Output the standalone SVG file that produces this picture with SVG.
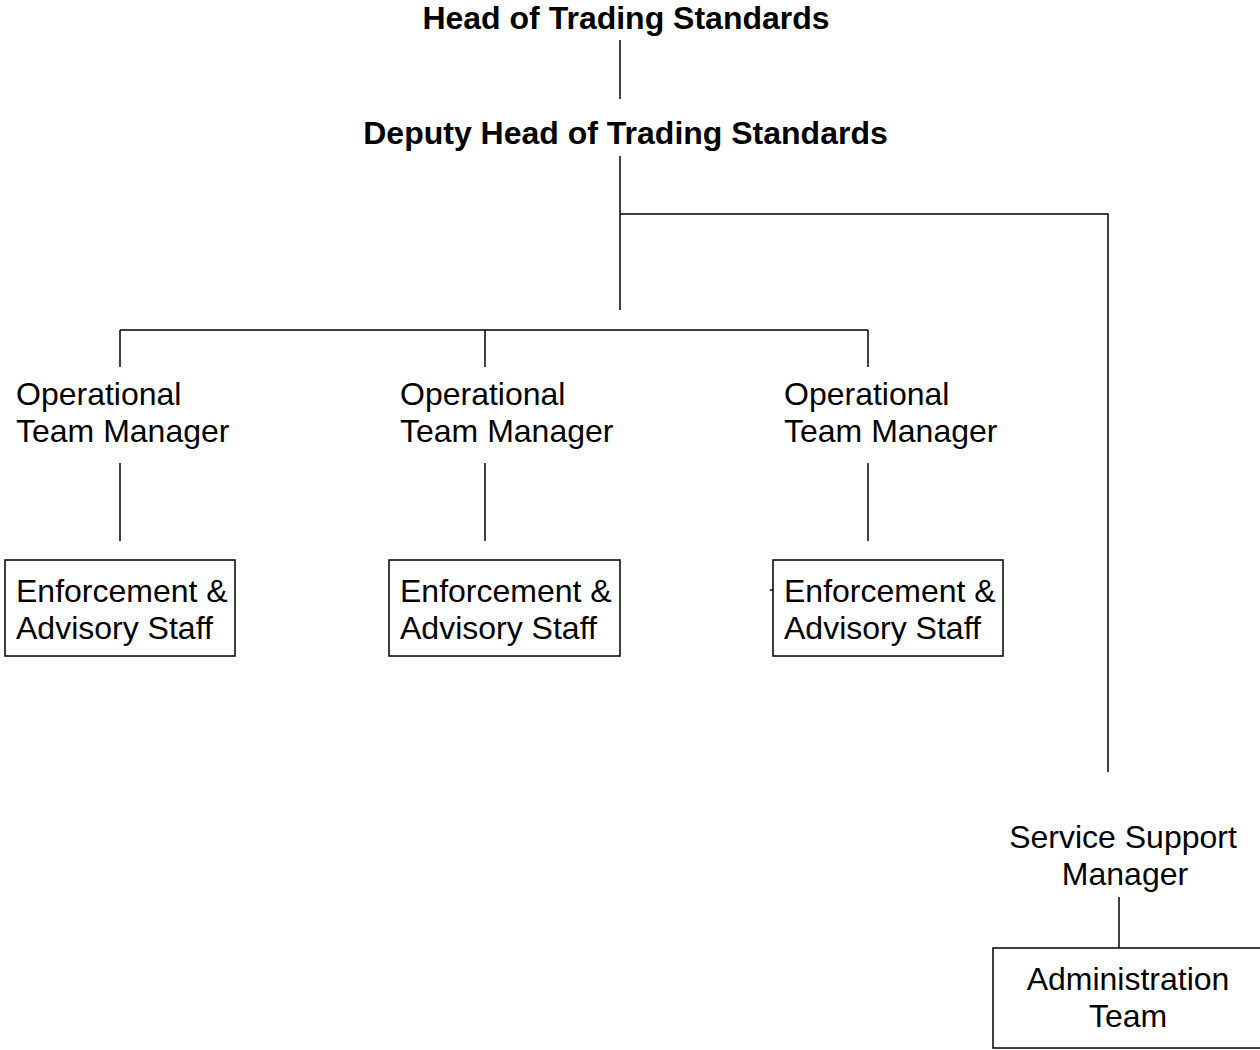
<svg xmlns="http://www.w3.org/2000/svg" width="1260" height="1050" viewBox="0 0 1260 1050">
<style>
text{font-family:"Liberation Sans",Arial,sans-serif;font-size:32px;fill:#000}
.b{font-weight:bold}
.c{text-anchor:middle}
.ln{stroke:#000;stroke-width:1.5;fill:none}
.bx{stroke:#000;stroke-width:1.5;fill:#fff}
</style>
<rect width="1260" height="1050" fill="#fff"/>
<g id="connectors" class="ln">
<line x1="620" y1="40" x2="620" y2="99"/>
<line x1="620" y1="156" x2="620" y2="310"/>
<polyline points="620,214 1108,214 1108,772"/>
<line x1="120" y1="330" x2="868" y2="330"/>
<line x1="120" y1="330" x2="120" y2="367"/>
<line x1="485" y1="330" x2="485" y2="367"/>
<line x1="868" y1="330" x2="868" y2="367"/>
<line x1="120" y1="463" x2="120" y2="541"/>
<line x1="485" y1="463" x2="485" y2="541"/>
<line x1="868" y1="463" x2="868" y2="541"/>
<line x1="1119" y1="897" x2="1119" y2="948"/>
<line x1="770" y1="590" x2="773" y2="590"/>
</g>
<g id="head"><text class="b c" x="626" y="29">Head of Trading Standards</text></g>
<g id="deputy"><text class="b c" x="625.5" y="144">Deputy Head of Trading Standards</text></g>
<g id="otm1"><text x="16" y="405">Operational</text><text x="16" y="442">Team Manager</text></g>
<g id="otm2"><text x="400" y="405">Operational</text><text x="400" y="442">Team Manager</text></g>
<g id="otm3"><text x="784" y="405">Operational</text><text x="784" y="442">Team Manager</text></g>
<g id="eas1"><rect class="bx" x="5" y="560" width="230" height="96"/><text x="16" y="602">Enforcement &amp;</text><text x="16" y="639">Advisory Staff</text></g>
<g id="eas2"><rect class="bx" x="389" y="560" width="231" height="96"/><text x="400" y="602">Enforcement &amp;</text><text x="400" y="639">Advisory Staff</text></g>
<g id="eas3"><rect class="bx" x="773" y="560" width="230" height="96"/><text x="784" y="602">Enforcement &amp;</text><text x="784" y="639">Advisory Staff</text></g>
<g id="ssm"><text class="c" x="1123" y="848">Service Support</text><text class="c" x="1125" y="885">Manager</text></g>
<g id="admin"><rect class="bx" x="993" y="948" width="280" height="100"/><text class="c" x="1128" y="990">Administration</text><text class="c" x="1128" y="1027">Team</text></g>
</svg>
